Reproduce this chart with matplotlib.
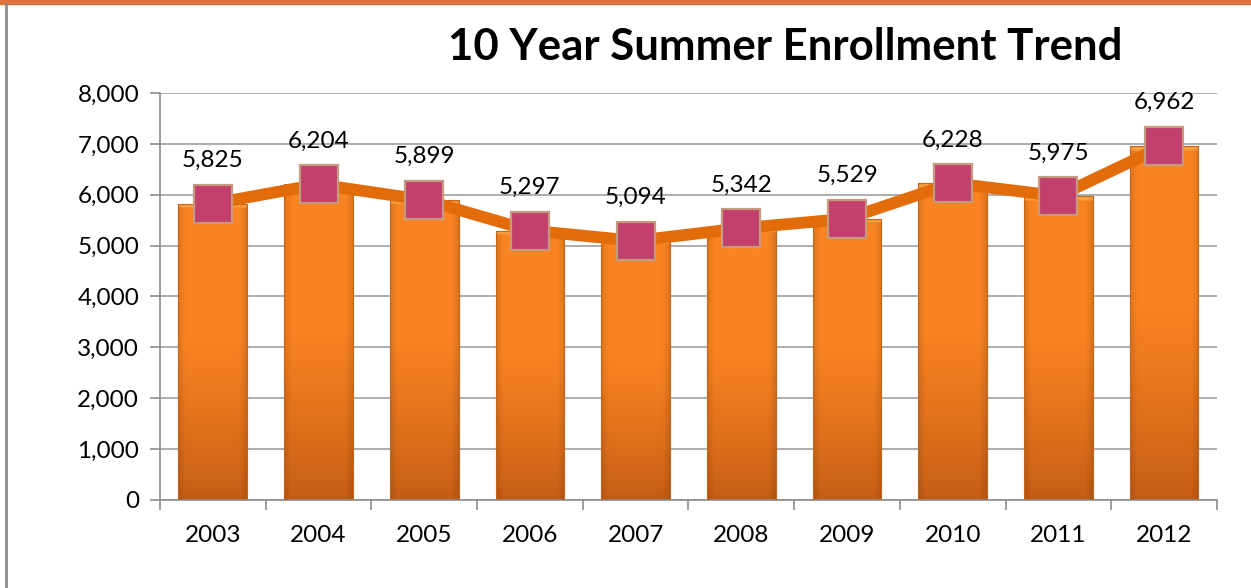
import numpy as np
import matplotlib
matplotlib.use('Agg')
import matplotlib.pyplot as plt
from matplotlib.lines import Line2D
from matplotlib.patches import Rectangle
from matplotlib.ticker import FuncFormatter, MultipleLocator

years      = ['2003', '2004', '2005', '2006', '2007', '2008', '2009', '2010', '2011', '2012']
enrollment = [5825, 6204, 5899, 5297, 5094, 5342, 5529, 6228, 5975, 6962]

plt.rcParams['font.family'] = ['Lato', 'DejaVu Sans']

fig = plt.figure(figsize=(12.51, 5.88), dpi=100)
ax = fig.add_axes([0.1279, 0.1497, 0.8449, 0.6921])

# frame decorations of the slide
fig.patches.append(Rectangle((0, 1 - 4 / 588), 1, 4 / 588, transform=fig.transFigure,
                             color='#E0703C', zorder=0))
fig.lines.append(Line2D([6 / 1251, 6 / 1251], [0, 1 - 4 / 588], transform=fig.transFigure,
                        color='#8C8C8C', lw=2))


def bar_image(h=200, w=60):
    # bright orange body, darker towards the bottom and the side edges
    top = np.array([0xFA, 0x84, 0x22]) / 255
    bot = np.array([0xC4, 0x5C, 0x14]) / 255
    t = np.linspace(0, 1, h)[:, None]           # 0 bottom, 1 top
    mix = np.clip(t / 0.55, 0, 1) ** 0.8
    col = bot[None, :] * (1 - mix) + top[None, :] * mix   # (h, 3)
    u = np.linspace(-1, 1, w)[None, :]
    side = 1 - 0.12 * np.clip((np.abs(u) - 0.75) / 0.25, 0, 1) ** 1.5
    img = col[:, None, :] * side[:, :, None]
    # light bevel at the top edge
    img[-3:, :, :] = img[-3:, :, :] * 0.4 + np.array([0xFC, 0xB4, 0x5A]) / 255 * 0.6
    return np.clip(img, 0, 1)


x = np.arange(len(years))
bw = 0.65
img = bar_image()
for xi, v in zip(x, enrollment):
    rect = Rectangle((xi - bw / 2, 0), bw, v, facecolor='none', edgecolor='#C8641A',
                     lw=0.8, zorder=3)
    ax.add_patch(rect)
    im = ax.imshow(img, extent=(xi - bw / 2, xi + bw / 2, 0, v), origin='lower',
                   aspect='auto', zorder=2, interpolation='bilinear')
    im.set_clip_path(rect)

ax.plot(x, enrollment, color='#E36C0A', lw=8.5, zorder=4, solid_capstyle='round')
ax.plot(x, enrollment, ls='none', marker='s', ms=28, mfc='#C2406E', mec='#C59A7E',
        mew=1.6, zorder=5)

for xi, v in zip(x, enrollment):
    ax.annotate(f'{v:,}', (xi, v), xytext=(0, 31), textcoords='offset points',
                ha='center', va='center', fontsize=17.5, color='black', zorder=6)

ax.set_xlim(-0.5, len(years) - 0.5)
ax.set_ylim(0, 8000)
ax.yaxis.set_major_locator(MultipleLocator(1000))
ax.yaxis.set_major_formatter(FuncFormatter(lambda v, p: f'{int(v):,}'))
ax.grid(axis='y', color='#A0A0A0', lw=1.2, zorder=0)
ax.set_axisbelow(True)

ax.set_xticks(x)
ax.set_xticklabels(years)
ax.set_xticks(np.arange(-0.5, len(years)), minor=True)
ax.tick_params(axis='x', which='major', length=0, pad=18, labelsize=17.5)
ax.tick_params(axis='x', which='minor', length=7, color='#8C8C8C', width=1.2)
ax.tick_params(axis='y', length=7, color='#8C8C8C', width=1.2, pad=8, labelsize=17.5)

for s in ['top', 'right']:
    ax.spines[s].set_visible(False)
for s in ['left', 'bottom']:
    ax.spines[s].set_color('#8C8C8C')
    ax.spines[s].set_linewidth(1.2)

fig.text(0.628, 0.92, '10 Year Summer Enrollment Trend', ha='center', va='center',
         fontsize=31.5, fontweight='bold')

fig.savefig('out.png', dpi=100)
